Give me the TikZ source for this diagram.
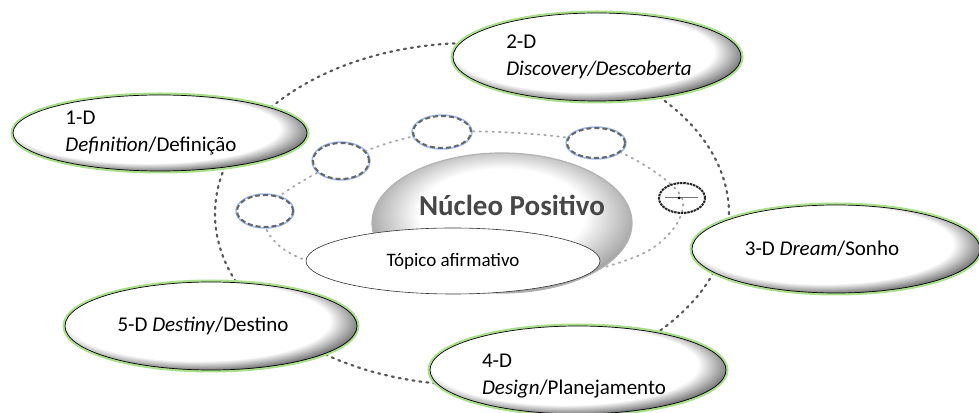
\documentclass[tikz,border=0pt]{standalone}
\usepackage{fontspec}
\setmainfont{Carlito}
\usetikzlibrary{shapes.geometric, positioning, calc}
\definecolor{glowG}{RGB}{170,224,140}
\definecolor{glowB}{RGB}{160,188,240}
\definecolor{rimG}{RGB}{90,90,90}
\pgfdeclareradialshading{phaseshade}{\pgfpoint{-4bp}{5bp}}{color(0bp)=(white); color(22.5bp)=(white); color(28.5bp)=(rimG); color(50bp)=(rimG)}
\pgfdeclareradialshading{coreshade}{\pgfpoint{0bp}{5bp}}{color(0bp)=(white); color(16bp)=(white); color(26bp)=(gray!70); color(50bp)=(gray!70)}

\begin{document}
\begin{tikzpicture}[x=1pt, y=1pt,
    every node/.style={font=\fontsize{21}{27}\selectfont},
    phase/.style={ellipse, shade, shading=phaseshade, draw=black, line width=0.7pt,
        preaction={draw=glowG, line width=5pt, solid}, inner sep=0pt,
        minimum width=290, minimum height=88},
    phasetext/.style={align=left, inner sep=0pt},
    planet/.style={ellipse, fill=white, draw=black!60, line width=2pt,
        dash pattern=on 5pt off 3pt, preaction={draw=glowB, line width=3.5pt, solid},
        minimum width=56, minimum height=32, inner sep=0pt},
    orbit/.style={black!65, line width=2.2pt, line cap=round, dash pattern=on 2pt off 5pt},
    innerorbit/.style={black!35, line width=1.8pt, line cap=round, dash pattern=on 1.5pt off 5pt}]
    \useasboundingbox (0,0) rectangle (979,412);

    % Orbits
    \draw[orbit] (472,198) ellipse [x radius=257, y radius=171];
    \draw[innerorbit] plot[smooth cycle] coordinates {(265,201) (341,251) (442,280) (596,269) (682,214) (640,157) (470,120) (300,154)};

    % The five D's
    \node[phase, minimum width=294, minimum height=76] (def) at (160,279) {};
    \node[phasetext] (def-t) at ([xshift=-9]def.center) {1-D\\\textit{Definition}/Definição};
    \node[phase, minimum width=288] (disc) at (597,355) {};
    \node[phasetext] (disc-t) at ([xshift=2]disc.center) {2-D\\\textit{Discovery/Descoberta}};
    \node[phase, minimum width=288] (dream) at (836,163) {};
    \node[phasetext] (dream-t) at ([xshift=-14]dream.center) {3-D \textit{Dream}/Sonho};
    \node[phase, minimum width=296] (dsgn) at (578,42) {};
    \node[phasetext] (dsgn-t) at ([xshift=-4,yshift=-6]dsgn.center) {4-D\\\textit{Design}/Planejamento};
    \node[phase, minimum width=292] (dest) at (211,86) {};
    \node[phasetext] (dest-t) at ([xshift=-8]dest.center) {5-D \textit{Destiny}/Destino};

    % Small planets
    \node[planet] (p1) at (265,201) {};
    \node[planet, minimum height=36] (p2) at (341,251) {};
    \node[planet, minimum width=58] (p3) at (442,280) {};
    \node[planet, minimum width=58, minimum height=30] (p4) at (596,269) {};

    \node[ellipse, draw=black!85, line width=2pt, dash pattern=on 2.5pt off 0.8pt,
        minimum width=46, minimum height=30, inner sep=0pt] (sign) at (682,214) {};
    \draw[black!55, line width=1pt] ([xshift=-17]sign.center) -- ([xshift=16]sign.center);
    \fill[black] ([xshift=-3]sign.center) circle (1.5);

    % Core
    \node[ellipse, shade, shading=coreshade, draw=gray!60, line width=1.2pt,
        minimum width=260, minimum height=140] (core) at (502,189) {};
    \node[font=\fontsize{29}{34}\selectfont\bfseries, text=black!72] (corelabel)
        at ([xshift=10,yshift=18]core.center) {Núcleo Positivo};
    \node[ellipse, fill=white, draw=black!80, line width=0.6pt, minimum width=294,
        minimum height=66, font=\fontsize{19}{23}\selectfont] (topic) at (453,151) {Tópico afirmativo};
\end{tikzpicture}
\end{document}
